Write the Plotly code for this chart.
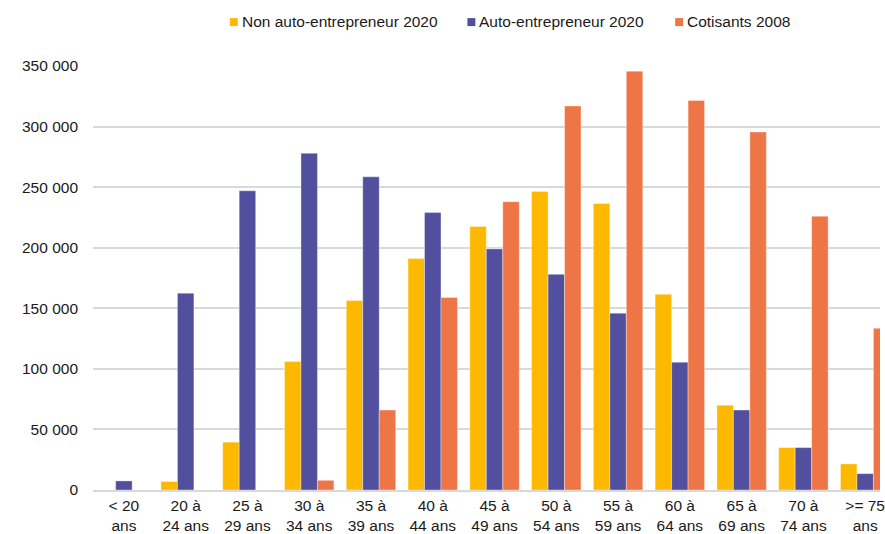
import plotly.graph_objects as go

categories = ["< 20<br>ans", "20 à<br>24 ans", "25 à<br>29 ans", "30 à<br>34 ans", "35 à<br>39 ans",
              "40 à<br>44 ans", "45 à<br>49 ans", "50 à<br>54 ans", "55 à<br>59 ans", "60 à<br>64 ans",
              "65 à<br>69 ans", "70 à<br>74 ans", ">= 75<br>ans"]
non_auto_2020 = [0, 7000, 39500, 106000, 156500, 191000, 217500, 246500, 236500, 161500, 70000, 35000, 21500]
auto_2020 = [7500, 162500, 247000, 278000, 258500, 229000, 199000, 178000, 146000, 105500, 66000, 35000, 13500]
cotisants_2008 = [0, 0, 0, 8000, 66000, 159000, 238000, 317000, 345700, 321500, 295500, 226000, 133500]
series_names = ["Non auto-entrepreneur 2020", "Auto-entrepreneur 2020", "Cotisants 2008"]
colors = ["#FDB900", "#524F9E", "#EE7646"]
tick_vals = [0, 50000, 100000, 150000, 200000, 250000, 300000, 350000]
tick_text = ["0", "50 000", "100 000", "150 000", "200 000", "250 000", "300 000", "350 000"]

FONT = "Liberation Sans, Arial, sans-serif"
W, H = 885, 534
ML, MR, MT, MB = 93.4, 0, 66, 43

fig = go.Figure()
for name, vals, col in zip(series_names, [non_auto_2020, auto_2020, cotisants_2008], colors):
    fig.add_trace(go.Bar(
        x=list(range(len(categories))), y=vals, name=name,
        marker=dict(color=col, line=dict(color="rgba(255,255,255,0.45)", width=0.8)),
        showlegend=False,
    ))

# custom legend (small squares tight to text); coordinates in window pixels
pw = W - ML - MR
ph = H - MT - MB
def px_x(p):
    return (p - ML) / pw
def px_y(p):
    return (H - MB - p) / ph

legend_items = [(231, 241), (470, 480), (679, 689)]
for (sq, tx), name, col in zip(legend_items, series_names, colors):
    fig.add_shape(type="rect", xref="paper", yref="paper",
                  x0=px_x(sq), x1=px_x(sq + 8), y0=px_y(26), y1=px_y(18),
                  fillcolor=col, line=dict(width=0))
    fig.add_annotation(xref="paper", yref="paper", x=px_x(tx), y=px_y(21),
                       xanchor="left", yanchor="middle", showarrow=False,
                       text=name, font=dict(family=FONT, size=15.5, color="#1a1a1a"))

fig.update_layout(
    width=W, height=H,
    margin=dict(l=ML, r=MR, t=MT, b=MB, pad=0),
    paper_bgcolor="white", plot_bgcolor="white",
    barmode="group", bargap=0.2, bargroupgap=0,
    font=dict(family=FONT, size=15.5, color="#1a1a1a"),
    xaxis=dict(
        tickmode="array", tickvals=list(range(len(categories))), ticktext=categories,
        range=[-0.5, 12.24], showgrid=False, zeroline=False,
        showline=True, linecolor="#d9d9d9", linewidth=2,
        ticks="", tickfont=dict(family=FONT, size=15.5, color="#1a1a1a"), tickangle=0,
        ticklabeloverflow="allow",
    ),
    yaxis=dict(
        range=[0, 350000], tickmode="array", tickvals=tick_vals, ticktext=tick_text,
        showgrid=True, gridcolor="#d9d9d9", gridwidth=2, zeroline=False,
        showline=False, ticks="", ticklabelstandoff=14,
        tickfont=dict(family=FONT, size=15.5, color="#1a1a1a"),
    ),
)

fig.write_html("out.html", config={"displayModeBar": False, "staticPlot": True},
               post_script="document.body.style.margin='0';document.body.style.overflow='hidden';")
